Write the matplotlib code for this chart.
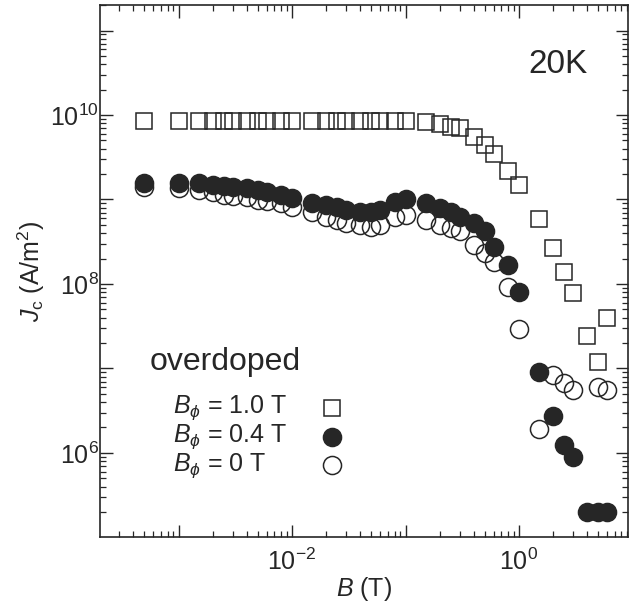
import numpy as np
import matplotlib
matplotlib.use("Agg")
import matplotlib.pyplot as plt
from matplotlib.ticker import FixedLocator, LogLocator, FuncFormatter, NullFormatter

plt.rcParams['font.family'] = ['Liberation Sans', 'DejaVu Sans']
plt.rcParams['mathtext.fontset'] = 'custom'
plt.rcParams['mathtext.rm'] = 'Liberation Sans'
plt.rcParams['mathtext.it'] = 'Liberation Sans:italic'

ink = '#262626'

# Applied field B (T)
field = [0.0005, 0.001, 0.0015, 0.002, 0.0025, 0.003, 0.004, 0.005, 0.006, 0.008,
         0.01, 0.015, 0.02, 0.025, 0.03, 0.04, 0.05, 0.06, 0.08, 0.1,
         0.15, 0.2, 0.25, 0.3, 0.4, 0.5, 0.6, 0.8, 1.0,
         1.5, 2.0, 2.5, 3.0, 4.0, 5.0, 6.0]

# Jc (A/m^2), B_phi = 1.0 T
jc_10 = [8.4e9, 8.4e9, 8.4e9, 8.4e9, 8.4e9, 8.4e9, 8.4e9, 8.4e9, 8.4e9, 8.4e9,
         8.4e9, 8.4e9, 8.4e9, 8.4e9, 8.4e9, 8.4e9, 8.4e9, 8.4e9, 8.4e9, 8.4e9,
         8.3e9, 7.8e9, 7.2e9, 7.1e9, 5.5e9, 4.4e9, 3.5e9, 2.2e9, 1.5e9,
         5.9e8, 2.7e8, 1.4e8, 7.8e7, 2.4e7, 1.2e7, 3.9e7]

# Jc (A/m^2), B_phi = 0.4 T
jc_04 = [1.57e9, 1.57e9, 1.57e9, 1.48e9, 1.45e9, 1.41e9, 1.38e9, 1.29e9, 1.23e9, 1.12e9,
         1.05e9, 9.1e8, 8.5e8, 8.1e8, 7.6e8, 7.1e8, 7.1e8, 7.6e8, 9.3e8, 1.0e9,
         9.1e8, 7.9e8, 7.1e8, 6.2e8, 5.2e8, 4.2e8, 2.75e8, 1.66e8, 8.0e7,
         9.1e6, 2.7e6, 1.23e6, 8.9e5, 2.0e5, 2.0e5, 2.0e5]

# Jc (A/m^2), B_phi = 0 T
jc_00 = [1.41e9, 1.38e9, 1.29e9, 1.23e9, 1.12e9, 1.10e9, 1.07e9, 9.8e8, 9.5e8, 9.1e8,
         8.1e8, 7.1e8, 6.2e8, 5.75e8, 5.2e8, 5.0e8, 4.7e8, 5.0e8, 6.2e8, 6.6e8,
         5.75e8, 5.0e8, 4.6e8, 4.2e8, 2.9e8, 2.3e8, 1.8e8, 9.1e7, 2.9e7,
         1.9e6, 8.3e6, 6.8e6, 5.6e6, np.nan, 6.0e6, 5.6e6]

labels = [r'$B_{\phi}$ = 1.0 T', r'$B_{\phi}$ = 0.4 T', r'$B_{\phi}$ = 0 T']
x_decades = [1e-3, 1e-2, 1e-1, 1e0]
y_decades = [1e6, 1e7, 1e8, 1e9, 1e10, 1e11]

fig = plt.figure(figsize=(6.31, 6.01), dpi=100)
ax = fig.add_axes([0.1585, 0.1065, 0.8365, 0.885])

sq_style = dict(ls='none', marker='s', ms=11, mfc='none', mec=ink, mew=1.1)
op_style = dict(ls='none', marker='o', ms=13, mfc='none', mec=ink, mew=1.1)
fi_style = dict(ls='none', marker='o', ms=13, mfc=ink, mec=ink, mew=1.1)

ax.plot(field, jc_10, zorder=3, **sq_style)
ax.plot(field, jc_00, zorder=2, **op_style)
ax.plot(field, jc_04, zorder=4, **fi_style)

ax.set_xscale('log')
ax.set_yscale('log')
ax.set_xlim(2.03e-4, 9.1)
ax.set_ylim(1.01e5, 2.0e11)

def even_decade(v, pos):
    e = int(round(np.log10(v)))
    return r'$10^{%d}$' % e if e % 2 == 0 else ''

for axis, dec in ((ax.xaxis, x_decades), (ax.yaxis, y_decades)):
    axis.set_major_locator(FixedLocator(dec))
    axis.set_minor_locator(LogLocator(base=10, subs=np.arange(2, 10), numticks=20))
    axis.set_major_formatter(FuncFormatter(even_decade))
    axis.set_minor_formatter(NullFormatter())

ax.tick_params(which='both', direction='in', top=True, right=True, colors=ink, labelsize=18)
ax.tick_params(which='major', length=9, width=1.0)
ax.tick_params(which='minor', length=4.5, width=0.9)
ax.tick_params(axis='y', pad=1)
ax.tick_params(axis='x', pad=8)
for s in ax.spines.values():
    s.set_linewidth(1.2)
    s.set_color(ink)

ax.set_xlabel(r'$B$ (T)', fontsize=18, color=ink, labelpad=0)
ax.set_ylabel(r'$J_{\mathrm{c}}$ (A/m$^2$)', fontsize=18, color=ink, labelpad=2)

ax.text(0.868, 0.888, '20K', transform=ax.transAxes, fontsize=24, color=ink, ha='center', va='center')
ax.text(0.237, 0.329, 'overdoped', transform=ax.transAxes, fontsize=23, color=ink, ha='center', va='center')

# legend: left-aligned labels, symbols in a column on the right
key_rows = [0.2425, 0.188, 0.135]
for lab, yk, st in zip(labels, key_rows, [sq_style, fi_style, op_style]):
    ax.text(0.138, yk, lab, transform=ax.transAxes, fontsize=18, color=ink, ha='left', va='center')
    ax.plot([0.439], [yk], transform=ax.transAxes, clip_on=False, **st)

fig.savefig('out.png', dpi=100)
